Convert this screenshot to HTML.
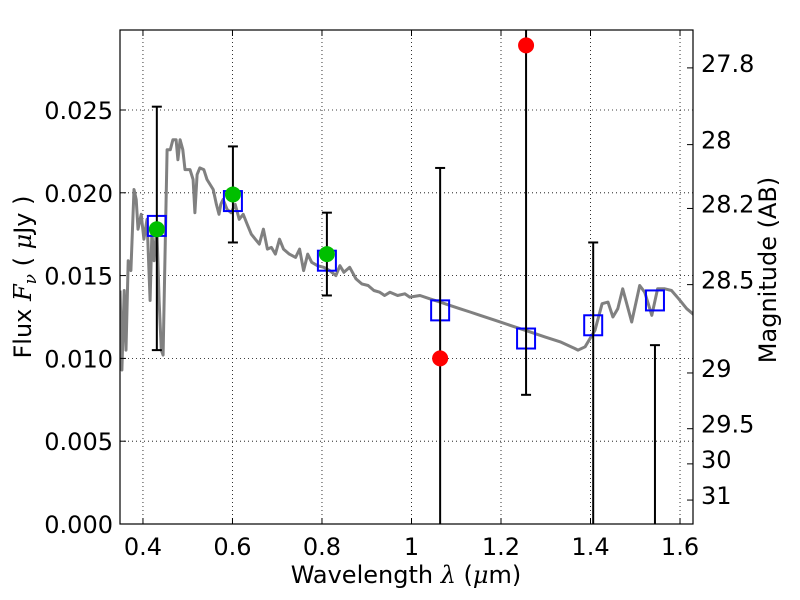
<!DOCTYPE html>
<html><head><meta charset="utf-8"><style>
html,body{margin:0;padding:0;background:#fff;}
svg{display:block;font-family:"DejaVu Sans","Liberation Sans",sans-serif;}
</style></head><body>
<svg id="c" width="800" height="600" xmlns="http://www.w3.org/2000/svg"></svg>
<script>
const specLam=[0.349,0.353,0.358,0.362,0.367,0.373,0.380,0.385,0.389,0.396,0.402,0.409,0.416,0.420,0.425,0.431,0.436,0.441,0.445,0.450,0.454,0.461,0.467,0.474,0.478,0.483,0.489,0.494,0.505,0.512,0.516,0.521,0.527,0.536,0.543,0.550,0.557,0.564,0.570,0.574,0.579,0.588,0.597,0.606,0.615,0.624,0.633,0.642,0.651,0.660,0.669,0.678,0.687,0.696,0.705,0.714,0.727,0.741,0.750,0.759,0.768,0.777,0.790,0.804,0.817,0.831,0.840,0.849,0.862,0.876,0.889,0.903,0.916,0.929,0.940,0.952,0.969,0.985,0.996,1.019,1.041,1.064,1.086,1.108,1.131,1.153,1.187,1.220,1.265,1.298,1.332,1.365,1.372,1.388,1.410,1.426,1.439,1.450,1.461,1.472,1.492,1.510,1.521,1.537,1.550,1.566,1.581,1.597,1.615,1.637];
const specFlux=[0.0141,0.0093,0.0141,0.0105,0.0159,0.0153,0.0202,0.0196,0.0178,0.0187,0.0172,0.0184,0.0135,0.0176,0.0159,0.0180,0.0135,0.0105,0.0102,0.0171,0.0226,0.0226,0.0232,0.0232,0.0220,0.0232,0.0226,0.0214,0.0214,0.0208,0.0188,0.0211,0.0215,0.0214,0.0208,0.0205,0.0202,0.0193,0.0187,0.0193,0.0196,0.0190,0.0188,0.0193,0.0184,0.0187,0.0181,0.0175,0.0172,0.0169,0.0178,0.0166,0.0167,0.0163,0.0172,0.0166,0.0163,0.0161,0.0166,0.0153,0.0163,0.0158,0.0156,0.0155,0.0153,0.0150,0.0156,0.0152,0.0155,0.0148,0.0145,0.0144,0.0141,0.0140,0.0138,0.0140,0.0138,0.0139,0.0137,0.0138,0.0136,0.0134,0.0132,0.0130,0.0128,0.0126,0.0123,0.0120,0.0116,0.0113,0.0110,0.0106,0.0105,0.0107,0.0117,0.0133,0.0134,0.0125,0.0130,0.0142,0.0122,0.0144,0.0140,0.0126,0.0142,0.0142,0.0141,0.0136,0.0130,0.0125];
const obsLam=[0.431,0.601,0.811,1.064,1.256,1.406,1.544];
const obsFlux=[0.0178,0.0199,0.0163,0.0100,0.0289,-0.00045,-0.00045];
const obsDetected=[true,true,true,false,false,false,false];
const errHigh=[0.0252,0.0228,0.0188,0.0215,0.0400,0.0170,0.0108];
const errLow=[0.0105,0.0170,0.0138,-0.005,0.0078,-0.005,-0.005];
const modelFlux=[0.0180,0.0195,0.0159,0.0129,0.0112,0.0120,0.0135];
const xTicks=[0.4,0.6,0.8,1.0,1.2,1.4,1.6];
const xTickLabels=["0.4","0.6","0.8","1","1.2","1.4","1.6"];
const yTicks=[0,0.005,0.010,0.015,0.020,0.025];
const yTickLabels=["0.000","0.005","0.010","0.015","0.020","0.025"];
const magTicks=[27.8,28,28.2,28.5,29,29.5,30,31];
const magTickLabels=["27.8","28","28.2","28.5","29","29.5","30","31"];

const L=120,R=693,T=30,B=524;
const xMin=0.3487,xMax=1.629,yMin=0,yMax=0.02983;
const X=v=>L+(v-xMin)/(xMax-xMin)*(R-L);
const Y=v=>B-(v-yMin)/(yMax-yMin)*(B-T);
const magToFlux=m=>Math.pow(10,(23.9-m)/2.5);
const svg=document.getElementById('c');
const NS="http://www.w3.org/2000/svg";
function mk(tag,attrs,parent){const e=document.createElementNS(NS,tag);for(const k in attrs)e.setAttribute(k,attrs[k]);(parent||svg).appendChild(e);return e;}

const defs=mk('defs',{});
const cp=mk('clipPath',{id:'pc'},defs);mk('rect',{x:L,y:T,width:R-L,height:B-T},cp);

const grid=mk('g',{});


xTicks.forEach(v=>mk('line',{x1:X(v),x2:X(v),y1:T,y2:B,stroke:'#000','stroke-width':0.8,'stroke-dasharray':'1,3'},grid));
yTicks.forEach(v=>mk('line',{x1:L,x2:R,y1:Y(v),y2:Y(v),stroke:'#000','stroke-width':0.8,'stroke-dasharray':'1,3'},grid));

const plot=mk('g',{'clip-path':'url(#pc)'});
let d=specLam.map((l,i)=>(i?'L':'M')+X(l).toFixed(1)+','+Y(specFlux[i]).toFixed(1)).join(' ');
const sp=mk('path',{d:d,fill:'none',stroke:'#808080','stroke-width':3,'stroke-linejoin':'round'},plot);


modelFlux.forEach((f,i)=>{
  const r=mk('rect',{x:X(obsLam[i])-9,y:Y(f)-10,width:18,height:20,fill:'none',stroke:'#0000ff','stroke-width':2},plot);
  
  
});
obsLam.forEach((l,i)=>{
  const g=mk('g',{},plot);
  
  
  const x=X(l);
  mk('line',{x1:x,x2:x,y1:Y(errHigh[i]),y2:Y(errLow[i]),stroke:'#000','stroke-width':2},g);
  mk('line',{x1:x-5,x2:x+5,y1:Y(errHigh[i]),y2:Y(errHigh[i]),stroke:'#000','stroke-width':2},g);
  mk('line',{x1:x-5,x2:x+5,y1:Y(errLow[i]),y2:Y(errLow[i]),stroke:'#000','stroke-width':2},g);
});
obsLam.forEach((l,i)=>{
  const c=mk('circle',{cx:X(l),cy:Y(obsFlux[i]),r:8,fill:obsDetected[i]?'#00bf00':'#ff0000'},plot);
  
  
});

const fr=mk('rect',{x:L,y:T,width:R-L,height:B-T,fill:'none',stroke:'#000','stroke-width':1.2});



xTicks.forEach((v,i)=>{
  mk('line',{x1:X(v),x2:X(v),y1:B,y2:B-6,stroke:'#000'});
  mk('line',{x1:X(v),x2:X(v),y1:T,y2:T+6,stroke:'#000'});
  const t=mk('text',{x:X(v),y:B+31,'text-anchor':'middle','font-size':24});
  t.textContent=xTickLabels[i];
  
  
});
yTicks.forEach((v,i)=>{
  mk('line',{x1:L,x2:L+6,y1:Y(v),y2:Y(v),stroke:'#000'});
  const t=mk('text',{x:L-7,y:Y(v)+9,'text-anchor':'end','font-size':24});
  t.textContent=yTickLabels[i];
  
  
});
magTicks.forEach((m,i)=>{
  const y=Y(magToFlux(m));
  mk('line',{x1:R,x2:R-6,y1:y,y2:y,stroke:'#000'});
  const t=mk('text',{x:R+8,y:y+4,'text-anchor':'start','font-size':24});
  t.textContent=magTickLabels[i];
  
  
});
</script>
<svg width="800" height="600" style="position:absolute;left:0;top:0" xmlns="http://www.w3.org/2000/svg">
<text x="406" y="583" text-anchor="middle" font-size="24" font-family="DejaVu Sans, Liberation Sans, sans-serif">Wavelength  <tspan font-style="italic" font-family="DejaVu Serif, serif">λ</tspan> (<tspan font-style="italic" font-family="DejaVu Serif, serif">μ</tspan>m)</text>
<text transform="translate(31,277) rotate(-90)" text-anchor="middle" font-size="24" font-family="DejaVu Sans, Liberation Sans, sans-serif">Flux  <tspan font-style="italic" font-family="DejaVu Serif, serif">F</tspan><tspan font-style="italic" font-size="17" dy="5" font-family="DejaVu Serif, serif">ν</tspan><tspan dy="-5">  ( </tspan><tspan font-style="italic" font-family="DejaVu Serif, serif">μ</tspan>Jy )</text>
<text transform="translate(776,270) rotate(-90)" text-anchor="middle" font-size="24" font-family="DejaVu Sans, Liberation Sans, sans-serif">Magnitude (AB)</text>
</svg>
</body></html>
